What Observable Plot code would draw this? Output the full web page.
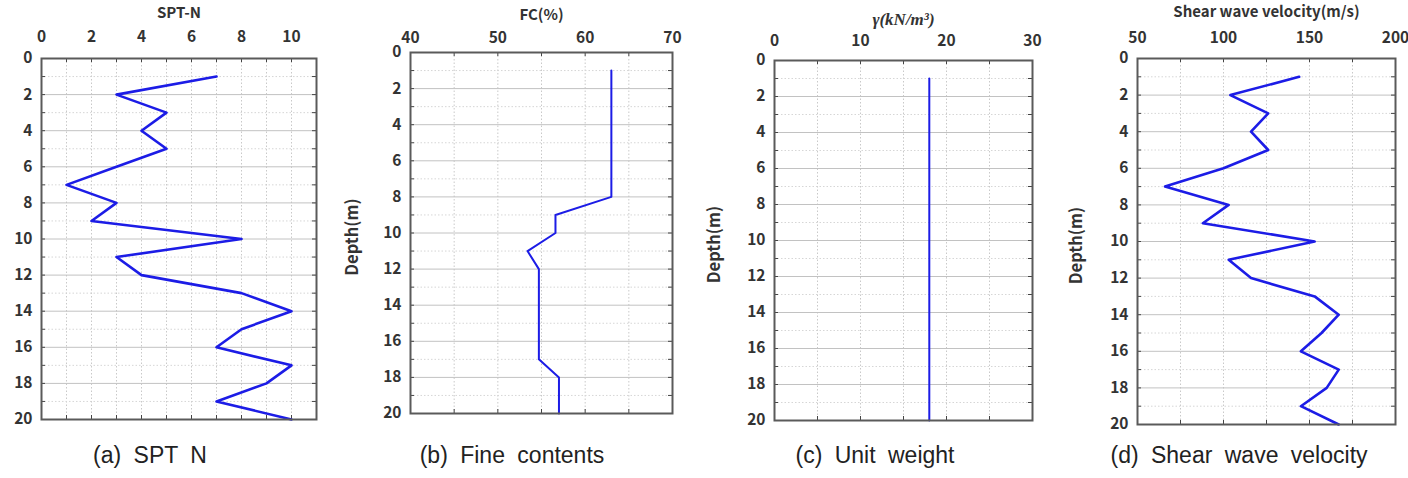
<!DOCTYPE html>
<html>
<head>
<meta charset="utf-8">
<script src="https://cdn.jsdelivr.net/npm/d3@7"></script>
<script src="https://cdn.jsdelivr.net/npm/@observablehq/plot@0.6"></script>
<style>
  body { margin: 0; background: #fff; }
  #fig { position: relative; width: 1408px; height: 478px; overflow: hidden; background: #fff; }
  .panel { position: absolute; top: 0; }
  .cap {
    position: absolute; top: 444px; transform: translateX(-50%);
    font-family: "Liberation Sans", Arial, sans-serif; font-size: 23px; line-height: 1;
    color: #222; white-space: nowrap; word-spacing: 6px;
  }
</style>
</head>
<body>
<div id="fig"></div>
<script>
// Depth profile (m), one reading per metre
const depth = [1, 2, 3, 4, 5, 6, 7, 8, 9, 10, 11, 12, 13, 14, 15, 16, 17, 18, 19, 20];

// Measured / derived soil properties at each depth
const sptN = [7, 3, 5, 4, 5, 3, 1, 3, 2, 8, 3, 4, 8, 10, 8, 7, 10, 9, 7, 10];
const fineContent = [63, 63, 63, 63, 63, 63, 63, 63, 56.6, 56.6, 53.4, 54.7, 54.7, 54.7, 54.7, 54.7, 54.7, 57, 57, 57];
const unitWeight = [18, 18, 18, 18, 18, 18, 18, 18, 18, 18, 18, 18, 18, 18, 18, 18, 18, 18, 18, 18];
const shearVelocity = [144, 104, 126, 116, 126, 100, 66, 103, 88, 153, 103, 116, 153, 167, 157, 145, 167, 160, 145, 167];

// Axis ticks
const depthTicks = [0, 2, 4, 6, 8, 10, 12, 14, 16, 18, 20];
const depthMajor = [2, 4, 6, 8, 10, 12, 14, 16, 18];
const depthMinor = [1, 3, 5, 7, 9, 11, 13, 15, 17, 19];
const depthAll = [0, 1, 2, 3, 4, 5, 6, 7, 8, 9, 10, 11, 12, 13, 14, 15, 16, 17, 18, 19, 20];

const sptTicks = [0, 2, 4, 6, 8, 10];
const sptGrid = [0, 1, 2, 3, 4, 5, 6, 7, 8, 9, 10, 11];
const fcTicks = [40, 50, 60, 70];
const fcGrid = [40, 45, 50, 55, 60, 65, 70];
const gammaTicks = [0, 10, 20, 30];
const gammaGrid = [0, 5, 10, 15, 20, 25, 30];
const vsTicks = [50, 100, 150, 200];
const vsGrid = [50, 75, 100, 125, 150, 175, 200];

// Titles and captions
const titles = ["SPT-N", "FC(%)", "γ(kN/m³)", "Shear wave velocity(m/s)"];
const captions = ["(a) SPT N", "(b) Fine contents", "(c) Unit weight", "(d) Shear wave velocity"];

const font = "'Noto Sans CJK KR', 'Noto Sans', sans-serif";

const panels = [
  { values: sptN, domain: [0, 11], ticks: sptTicks, grid: sptGrid, title: titles[0], caption: captions[0],
    left: 0, width: 330, ml: 41, mr: 14, mt: 58, mb: 21, capX: 150, sw: 2.6, depthLabel: false, titleDy: -51, tickPad: 17 },
  { values: fineContent, domain: [40, 70], ticks: fcTicks, grid: fcGrid, title: titles[1], caption: captions[1],
    left: 340, width: 340, ml: 70, mr: 8, mt: 52, mb: 27, capX: 512, sw: 2, depthLabel: true, labelDx: -58, titleDy: -43, tickPad: 10 },
  { values: unitWeight, domain: [0, 30], ticks: gammaTicks, grid: gammaGrid, title: titles[2], caption: captions[2],
    left: 700, width: 345, ml: 74, mr: 13, mt: 60, mb: 20, capX: 875, sw: 2, depthLabel: true, labelDx: -60, titleDy: -48, italic: true, tickPad: 15 },
  { values: shearVelocity, domain: [50, 200], ticks: vsTicks, grid: vsGrid, title: titles[3], caption: captions[3],
    left: 1060, width: 348, ml: 77, mr: 13, mt: 58, mb: 16, capX: 1239, sw: 2.6, depthLabel: true, labelDx: -61, titleDy: -52, tickPad: 16 }
];

const H = 440;
const fig = document.getElementById("fig");

for (const p of panels) {
  const rows = depth.map((d, i) => ({ d, v: p.values[i] }));
  const fw = p.width - p.ml - p.mr;
  const fh = H - p.mt - p.mb;
  const tick = 4;

  const marks = [
    // light grid
    Plot.ruleX(p.grid, { x: d => d, stroke: "#c9c9c9", strokeDasharray: "1.5,2" }),
    Plot.ruleY(depthMinor, { y: d => d, stroke: "#d6d6d6", strokeDasharray: "1.5,2" }),
    Plot.ruleY(depthMajor, { y: d => d, stroke: "#c2c2c2" }),
    // inward tick marks on every side
    Plot.tickX(p.grid, { x: d => d, insetBottom: fh - tick, stroke: "#444" }),
    Plot.tickX(p.grid, { x: d => d, insetTop: fh - tick, stroke: "#444" }),
    Plot.tickY(depthAll, { y: d => d, insetRight: fw - tick, stroke: "#444" }),
    Plot.tickY(depthAll, { y: d => d, insetLeft: fw - tick, stroke: "#444" }),
    // profile
    Plot.line(rows, { x: "v", y: "d", stroke: "#1c1ce6", strokeWidth: p.sw, strokeLinejoin: "round" }),
    Plot.frame({ stroke: "#5a5a5a", strokeWidth: 2 }),
    Plot.axisX({ anchor: "top", ticks: p.ticks, tickSize: 0, tickPadding: p.tickPad, label: null,
      fontSize: 15.5, fontWeight: "bold", fontFamily: font, fill: "#333" }),
    Plot.axisY({ anchor: "left", ticks: depthTicks, tickSize: 0, tickPadding: 9, label: null,
      fontSize: 15.5, fontWeight: "bold", fontFamily: font, fill: "#333" }),
    Plot.text([p.title], {
      text: d => d, frameAnchor: "top", dy: p.titleDy,
      fontWeight: "bold", fontSize: p.italic ? 17 : 15,
      fontStyle: p.italic ? "italic" : "normal",
      fontFamily: p.italic ? "'Liberation Serif', serif" : font,
      fill: "#333"
    })
  ];
  if (p.depthLabel) {
    marks.push(Plot.text(["Depth(m)"], {
      text: d => d, frameAnchor: "left", textAnchor: "middle", rotate: -90, dx: p.labelDx, dy: 4,
      fontWeight: "bold", fontSize: 16.5, fontFamily: font, fill: "#333"
    }));
  }

  const svg = Plot.plot({
    width: p.width, height: H,
    marginLeft: p.ml, marginRight: p.mr, marginTop: p.mt, marginBottom: p.mb,
    x: { domain: p.domain, label: null },
    y: { domain: [0, 20], reverse: true, label: null },
    style: { fontFamily: font, fontSize: "16px", fontWeight: "bold", color: "#333", background: "transparent", overflow: "visible" },
    marks
  });

  const div = document.createElement("div");
  div.className = "panel";
  div.style.left = p.left + "px";
  div.appendChild(svg);
  fig.appendChild(div);

  const cap = document.createElement("div");
  cap.className = "cap";
  cap.style.left = p.capX + "px";
  cap.textContent = p.caption;
  fig.appendChild(cap);
}
</script>
</body>
</html>
